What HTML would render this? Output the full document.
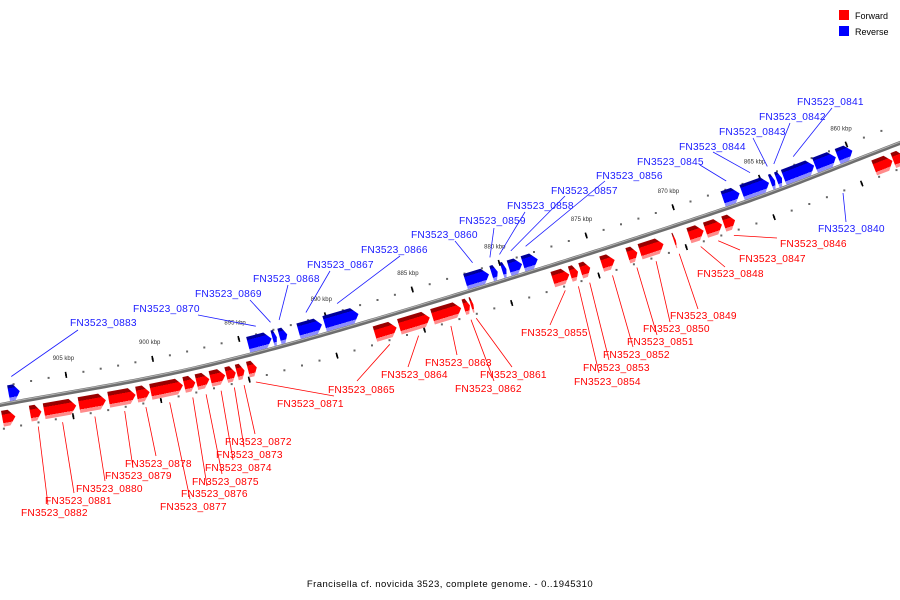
<!DOCTYPE html>
<html><head><meta charset="utf-8"><title>Genome map</title>
<style>
html,body{margin:0;padding:0;background:#fff;}
svg{display:block;font-family:"Liberation Sans",sans-serif;}
</style></head>
<body>
<svg id="map" width="900" height="600" viewBox="0 0 900 600" xmlns="http://www.w3.org/2000/svg">
<defs>
<linearGradient id="gRed" x1="0" y1="0" x2="0" y2="1">
<stop offset="0" stop-color="#990000"/><stop offset="0.25" stop-color="#990000"/>
<stop offset="0.25" stop-color="#ff0000"/><stop offset="0.78" stop-color="#ff0000"/>
<stop offset="0.78" stop-color="#ff8c8c"/><stop offset="1" stop-color="#ff8c8c"/>
</linearGradient>
<linearGradient id="gBlue" x1="0" y1="0" x2="0" y2="1">
<stop offset="0" stop-color="#000099"/><stop offset="0.2" stop-color="#000099"/>
<stop offset="0.2" stop-color="#0000ff"/><stop offset="0.78" stop-color="#0000ff"/>
<stop offset="0.78" stop-color="#8c8cff"/><stop offset="1" stop-color="#8c8cff"/>
</linearGradient>
</defs>
<g id="legend">
<rect x="839" y="10" width="10" height="10" fill="#ff0000"/>
<text x="855" y="19" font-size="9" fill="#000">Forward</text>
<rect x="839" y="26" width="10" height="10" fill="#0000ff"/>
<text x="855" y="35" font-size="9" fill="#000">Reverse</text>
</g>
<text x="450" y="587" font-size="9.5" letter-spacing="0.45" text-anchor="middle" fill="#000">Francisella cf. novicida 3523, complete genome. - 0..1945310</text>
<g id="layer"></g>
</svg>
<script>
// ---- data (kbp positions) ----
const geneNames = ["","FN3523_0882","FN3523_0881","FN3523_0880","FN3523_0879","FN3523_0878","FN3523_0877","FN3523_0876","FN3523_0875","FN3523_0874","FN3523_0873","FN3523_0872","FN3523_0871",
"FN3523_0865","FN3523_0864","FN3523_0863","FN3523_0862","FN3523_0861",
"FN3523_0855","FN3523_0854","FN3523_0853","FN3523_0852","FN3523_0851","FN3523_0850","FN3523_0849","FN3523_0848","FN3523_0847","FN3523_0846","","",
"FN3523_0883","FN3523_0870","FN3523_0869","FN3523_0868","FN3523_0867","FN3523_0866",
"FN3523_0860","FN3523_0859","FN3523_0858","FN3523_0857","FN3523_0856",
"FN3523_0845","FN3523_0844","FN3523_0843","FN3523_0842","FN3523_0841","","FN3523_0840"];
const geneStrand = [1,1,1,1,1,1,1,1,1,1,1,1,1, 1,1,1,1,1, 1,1,1,1,1,1,1,1,1,1,1,1,
-1,-1,-1,-1,-1,-1, -1,-1,-1,-1,-1, -1,-1,-1,-1,-1,-1,-1];
const geneStart = [908.2,906.7,904.7,903.0,901.3,900.5,898.6,897.9,897.1,896.2,895.6,895.1,894.4,
886.4,884.5,882.7,882.2,882.0,
876.5,876.0,875.3,873.9,872.6,871.1,870.4,868.8,867.75,867.0,858.0,857.3,
907.7,893.2,892.9,892.3,890.3,888.2,
880.7,880.2,879.7,878.8,877.9,
866.3,864.6,864.25,863.85,862.0,860.75,859.8];
const geneEnd = [909.0,907.4,906.6,904.6,902.9,901.3,900.5,898.6,897.9,897.1,896.2,895.6,894.96,
887.7,886.3,884.4,882.6,882.2,
877.5,876.5,875.9,874.7,873.2,872.5,870.56,869.7,868.75,867.7,859.1,858.0,
908.4,894.6,893.2,892.8,891.7,890.2,
882.1,880.6,880.0,879.6,878.8,
867.3,866.2,864.55,864.2,863.8,862.0,860.7];
const tickKbp = [860,865,870,875,880,885,890,895,900,905,910];
const tickLabels = ["860 kbp","865 kbp","870 kbp","875 kbp","880 kbp","885 kbp","890 kbp","895 kbp","900 kbp","905 kbp","910 kbp"];
// label layout: [textX, textCenterY, lineEndX, lineEndY]
const labelLayout = {
"FN3523_0882":[21,512,48,505],"FN3523_0881":[45,500,74,493],"FN3523_0880":[76,488,105,481],"FN3523_0879":[105,475,133,468],
"FN3523_0878":[125,463,156,456],"FN3523_0877":[160,506,190,499],"FN3523_0876":[181,493,207,486],"FN3523_0875":[192,481,222,474],
"FN3523_0874":[205,467,233,460],"FN3523_0873":[216,454,244,447],"FN3523_0872":[225,441,255,434],"FN3523_0871":[277,403,334,396],
"FN3523_0865":[328,389,357,381],"FN3523_0864":[381,374,408,367],"FN3523_0863":[425,362,457,355],"FN3523_0862":[455,388,494,381],"FN3523_0861":[480,374,512,367],
"FN3523_0855":[521,332,550,325],"FN3523_0854":[574,381,599,373],"FN3523_0853":[583,367,609,360],"FN3523_0852":[603,354,633,347],
"FN3523_0851":[627,341,657,335],"FN3523_0850":[643,328,670,322],"FN3523_0849":[670,315,698,309],"FN3523_0848":[697,273,725,267],
"FN3523_0847":[739,258,740,250],"FN3523_0846":[780,243,777,238],
"FN3523_0883":[70,322,78,330],"FN3523_0870":[133,308,198,315],"FN3523_0869":[195,293,250,300],"FN3523_0868":[253,278,288,285],
"FN3523_0867":[307,264,330,271],"FN3523_0866":[361,249,400,256],"FN3523_0860":[411,234,455,241],"FN3523_0859":[459,220,494,228],
"FN3523_0858":[507,205,525,212],"FN3523_0857":[551,190,565,196],"FN3523_0856":[596,175,605,181],"FN3523_0845":[637,161,700,165],
"FN3523_0844":[679,146,713,152],"FN3523_0843":[719,131,753,138],"FN3523_0842":[759,116,790,123],"FN3523_0841":[797,101,832,108],
"FN3523_0840":[818,228,846,222]
};

// ---- geometry ----
const NS = "http://www.w3.org/2000/svg";
const P = [[-60,416],[0,405],[200,367],[410,309],[735,205.5],[900,143],[960,120]];
function slopeAt(i){const a=P[Math.max(0,i-1)],b=P[Math.min(P.length-1,i+1)];return (b[1]-a[1])/(b[0]-a[0]);}
function Y(x){
  let i=0; while(i<P.length-2 && x>P[i+1][0]) i++;
  const x0=P[i][0],x1=P[i+1][0],h=x1-x0,t=(x-x0)/h;
  const y0=P[i][1],y1=P[i+1][1],m0=slopeAt(i)*h,m1=slopeAt(i+1)*h;
  const t2=t*t,t3=t2*t;
  return (2*t3-3*t2+1)*y0+(t3-2*t2+t)*m0+(-2*t3+3*t2)*y1+(t3-t2)*m1;
}
function ang(x){return Math.atan2(Y(x+0.5)-Y(x-0.5),1);}
function X(k){return 853-(k-860)*17.42;}
function pt(x,v){const a=ang(x);return [x-Math.sin(a)*v, Y(x)+Math.cos(a)*v];}
function mk(tag,attrs,parent){const e=document.createElementNS(NS,tag);for(const k in attrs)e.setAttribute(k,attrs[k]);(parent||layer).appendChild(e);return e;}
const layer=document.getElementById('layer');

// backbone
let d="";for(let x=-5;x<=905;x+=5){d+=(x===-5?"M":"L")+x+","+Y(x).toFixed(2)+" ";}
const bb=mk('path',{d:d,fill:"none",stroke:"#6e6e6e","stroke-width":4});


const bb2=mk('path',{d:d,fill:"none",stroke:"#b4b4b4","stroke-width":1,transform:"translate(0,-1)"});



// minor dots
for(let k=855;k<=912;k++){
  const x=X(k); if(x<-5||x>905) continue;
  [-18,24].forEach(v=>{
    const p=pt(x,v);
    const dot=mk('rect',{x:(p[0]-1).toFixed(1),y:(p[1]-1).toFixed(1),width:2,height:2,fill:"#666"});
    
    
  });
}
// major ticks
tickKbp.forEach((k,i)=>{
  const x=X(k); if(x<-5||x>905) return;
  [[-21,-15],[21,27]].forEach(r=>{
    const a=pt(x,r[0]),b=pt(x,r[1]);
    const t=mk('line',{x1:a[0],y1:a[1],x2:b[0],y2:b[1],stroke:"#000","stroke-width":1.6});
    
    
  });
  const lp=pt(x,-33);
  const tl=mk('text',{x:lp[0].toFixed(1),y:lp[1].toFixed(1),"font-size":6,fill:"#333","text-anchor":"middle"});
  tl.textContent=tickLabels[i];
  
  
});

// genes
geneStart.forEach((k0,i)=>{
  const k1=geneEnd[i], s=geneStrand[i];
  const xa=X(k1), xb=X(k0);
  const xm=(xa+xb)/2, a=ang(xm);
  const L=(xb-xa)/Math.cos(a);
  const v0=s>0?6:-18, v1=s>0?22:-2;
  const p=pt(xa,0);
  const ah=Math.min(7,L*0.5), vm=(v0+v1)/2;
  const g=mk('g',{transform:`translate(${p[0].toFixed(2)},${p[1].toFixed(2)}) rotate(${(a*180/Math.PI).toFixed(3)})`});
  
  
  mk('polygon',{points:`0.5,${v0} ${(L-ah).toFixed(2)},${v0} ${(L-0.5).toFixed(2)},${vm} ${(L-ah).toFixed(2)},${v1} 0.5,${v1}`,fill:s>0?"url(#gRed)":"url(#gBlue)"},g);
  const nm=geneNames[i]; const lay=labelLayout[nm];
  if(nm && lay){
    const col=s>0?"#ff0000":"#1a1aff";
    let st;
    if(nm==="FN3523_0840") st=[843,193]; else st=pt(xm,s>0?28:-26);
    const ln=mk('line',{x1:st[0].toFixed(1),y1:st[1].toFixed(1),x2:lay[2],y2:lay[3],stroke:col,"stroke-width":0.8});
    
    
    const tx=mk('text',{x:lay[0],y:lay[1]+4,"font-size":10.2,fill:col,"letter-spacing":"0.2"});
    tx.textContent=nm;
    
    
  }
});
</script>
</body></html>
